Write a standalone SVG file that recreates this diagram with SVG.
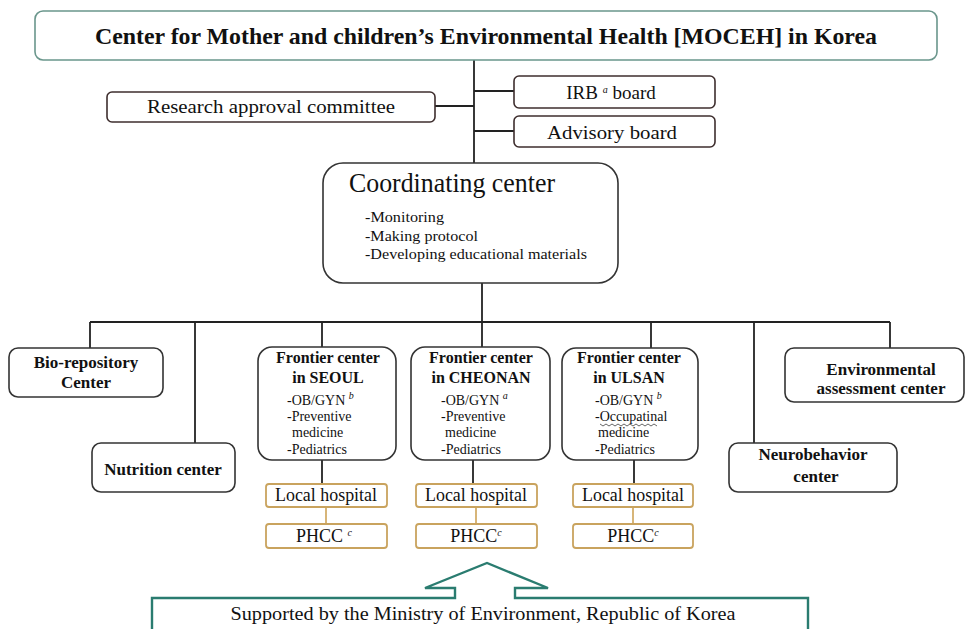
<svg xmlns="http://www.w3.org/2000/svg" width="966" height="629" viewBox="0 0 966 629">
<style>
  text { font-family: "Liberation Serif", "Times New Roman", serif; fill: #111; }
  .box { fill: #fff; stroke: #333; stroke-width: 1.6; }
  .mbox { fill: #fff; stroke: #3e2e2e; stroke-width: 1.6; }
  .top { fill: #fff; stroke: #6a968c; stroke-width: 1.6; }
  .gold { fill: #fff; stroke: #c9a35e; stroke-width: 1.8; }
  .ln { stroke: #222; stroke-width: 1.8; fill: none; }
  .gl { stroke: #d3ad6a; stroke-width: 1.8; fill: none; }
  .b17 { font-size: 17px; font-weight: bold; text-anchor: middle; }
  .b16 { font-size: 16px; font-weight: bold; text-anchor: middle; }
  .r19 { font-size: 19px; text-anchor: middle; }
  .r18 { font-size: 18px; text-anchor: middle; }
  .s14 { font-size: 14px; }
  .sup { font-size: 10px; font-style: italic; }
</style>

<g id="connectors">
  <line class="ln" x1="474" y1="60" x2="474" y2="163"/>
  <line class="ln" x1="435" y1="106" x2="474" y2="106"/>
  <line class="ln" x1="474" y1="91" x2="514" y2="91"/>
  <line class="ln" x1="474" y1="131" x2="514" y2="131"/>
  <line class="ln" x1="482" y1="283" x2="482" y2="347"/>
  <line class="ln" x1="90" y1="322" x2="890" y2="322"/>
  <line class="ln" x1="90" y1="322" x2="90" y2="348"/>
  <line class="ln" x1="195" y1="322" x2="195" y2="443"/>
  <line class="ln" x1="322" y1="322" x2="322" y2="347"/>
  <line class="ln" x1="651" y1="322" x2="651" y2="348"/>
  <line class="ln" x1="754" y1="322" x2="754" y2="443"/>
  <line class="ln" x1="890" y1="322" x2="890" y2="348"/>
  <line class="ln" x1="322" y1="460" x2="322" y2="484"/>
  <line class="ln" x1="473" y1="460" x2="473" y2="484"/>
  <line class="ln" x1="634" y1="460" x2="634" y2="484"/>
  <line class="gl" x1="326" y1="507" x2="326" y2="524"/>
  <line class="gl" x1="476" y1="507" x2="476" y2="524"/>
  <line class="gl" x1="633" y1="507" x2="633" y2="524"/>
</g>

<g id="moceh">
  <rect class="top" x="35" y="11" width="902" height="49" rx="8"/>
  <text x="486" y="44" font-size="24" font-weight="bold" text-anchor="middle" textLength="782" lengthAdjust="spacingAndGlyphs">Center for Mother and children’s Environmental Health  [MOCEH] in Korea</text>
</g>

<g id="research">
  <rect class="mbox" x="107" y="92" width="328" height="30" rx="5"/>
  <text class="r19" x="271" y="113" textLength="248" lengthAdjust="spacingAndGlyphs">Research approval committee</text>
</g>

<g id="irb">
  <rect class="mbox" x="514" y="76" width="201" height="32" rx="5"/>
  <text class="r19" x="611" y="99">IRB <tspan class="sup" dy="-6">a</tspan><tspan dy="6"> board</tspan></text>
</g>

<g id="advisory">
  <rect class="mbox" x="514" y="116" width="201" height="31" rx="5"/>
  <text class="r19" x="612" y="139" textLength="130" lengthAdjust="spacingAndGlyphs">Advisory board</text>
</g>

<g id="coordinating">
  <rect class="box" x="323" y="163" width="295" height="120" rx="20"/>
  <text x="349" y="192" font-size="27" textLength="206" lengthAdjust="spacingAndGlyphs">Coordinating center</text>
  <text class="s14" x="365" y="222" textLength="79" lengthAdjust="spacingAndGlyphs">-Monitoring</text>
  <text class="s14" x="365" y="241" textLength="113" lengthAdjust="spacingAndGlyphs">-Making protocol</text>
  <text class="s14" x="365" y="259" textLength="222" lengthAdjust="spacingAndGlyphs">-Developing  educational  materials</text>
</g>

<g id="biorepository">
  <rect class="box" x="9" y="348" width="154" height="49" rx="9"/>
  <text class="b17" x="86" y="368">Bio-repository</text>
  <text class="b17" x="86" y="388">Center</text>
</g>

<g id="nutrition">
  <rect class="box" x="92" y="443" width="143" height="49" rx="9"/>
  <text class="b17" x="163" y="475">Nutrition center</text>
</g>

<g id="seoul">
  <rect class="box" x="258" y="347" width="138" height="113" rx="14"/>
  <text class="b16" x="328" y="363">Frontier center</text>
  <text class="b16" x="328" y="383">in SEOUL</text>
  <text class="s14" x="287" y="405">-OB/GYN <tspan class="sup" dy="-6">b</tspan></text>
  <text class="s14" x="287" y="421">-Preventive</text>
  <text class="s14" x="292" y="437">medicine</text>
  <text class="s14" x="287" y="454">-Pediatrics</text>
</g>

<g id="cheonan">
  <rect class="box" x="411" y="347" width="139" height="113" rx="14"/>
  <text class="b16" x="481" y="363">Frontier center</text>
  <text class="b16" x="481" y="383">in CHEONAN</text>
  <text class="s14" x="441" y="405">-OB/GYN <tspan class="sup" dy="-6">a</tspan></text>
  <text class="s14" x="441" y="421">-Preventive</text>
  <text class="s14" x="445" y="437">medicine</text>
  <text class="s14" x="441" y="454">-Pediatrics</text>
</g>

<g id="ulsan">
  <rect class="box" x="562" y="348" width="136" height="112" rx="14"/>
  <text class="b16" x="629" y="363">Frontier center</text>
  <text class="b16" x="629" y="383">in ULSAN</text>
  <text class="s14" x="595" y="405">-OB/GYN <tspan class="sup" dy="-6">b</tspan></text>
  <text class="s14" x="595" y="421">-Occupatinal</text>
  <path d="M600 424 l3 2 l3 -2 l3 2 l3 -2 l3 2 l3 -2 l3 2 l3 -2 l3 2 l3 -2 l3 2 l3 -2 l3 2 l3 -2 l3 2 l3 -2 l3 2 l3 -2 l3 2" fill="none" stroke="#555" stroke-width="0.9"/>
  <text class="s14" x="598" y="437">medicine</text>
  <text class="s14" x="595" y="454">-Pediatrics</text>
</g>

<g id="neurobehavior">
  <rect class="box" x="729" y="443" width="168" height="49" rx="9"/>
  <text class="b17" x="813" y="460">Neurobehavior</text>
  <text class="b17" x="816" y="482">center</text>
</g>

<g id="environmental">
  <rect class="box" x="785" y="348" width="179" height="54" rx="9"/>
  <text class="b17" x="881" y="375">Environmental</text>
  <text class="b17" x="881" y="394">assessment center</text>
</g>

<g id="hospital1">
  <rect class="gold" x="266" y="484" width="121" height="23" rx="3"/>
  <text class="r18" x="326" y="501" textLength="102" lengthAdjust="spacingAndGlyphs">Local hospital</text>
</g>
<g id="phcc1">
  <rect class="gold" x="266" y="524" width="121" height="24" rx="3"/>
  <text class="r18" x="324" y="542">PHCC <tspan class="sup" dy="-6">c</tspan></text>
</g>
<g id="hospital2">
  <rect class="gold" x="416" y="484" width="121" height="23" rx="3"/>
  <text class="r18" x="476" y="501" textLength="102" lengthAdjust="spacingAndGlyphs">Local hospital</text>
</g>
<g id="phcc2">
  <rect class="gold" x="416" y="524" width="121" height="24" rx="3"/>
  <text class="r18" x="476" y="542">PHCC<tspan class="sup" dy="-6">c</tspan></text>
</g>
<g id="hospital3">
  <rect class="gold" x="573" y="484" width="120" height="23" rx="3"/>
  <text class="r18" x="633" y="501" textLength="102" lengthAdjust="spacingAndGlyphs">Local hospital</text>
</g>
<g id="phcc3">
  <rect class="gold" x="573" y="524" width="120" height="24" rx="3"/>
  <text class="r18" x="633" y="542">PHCC<tspan class="sup" dy="-6">c</tspan></text>
</g>

<g id="ministry">
  <path d="M152 640 L152 598 L455 598 L455 588 L425 588 L487 563 L548 588 L515 588 L515 598 L808 598 L808 640" fill="#fff" stroke="#2a7c70" stroke-width="2.4" stroke-linejoin="miter"/>
  <text x="483" y="620" font-size="18" text-anchor="middle" textLength="505" lengthAdjust="spacingAndGlyphs">Supported by the Ministry of Environment, Republic of Korea</text>
</g>
</svg>
